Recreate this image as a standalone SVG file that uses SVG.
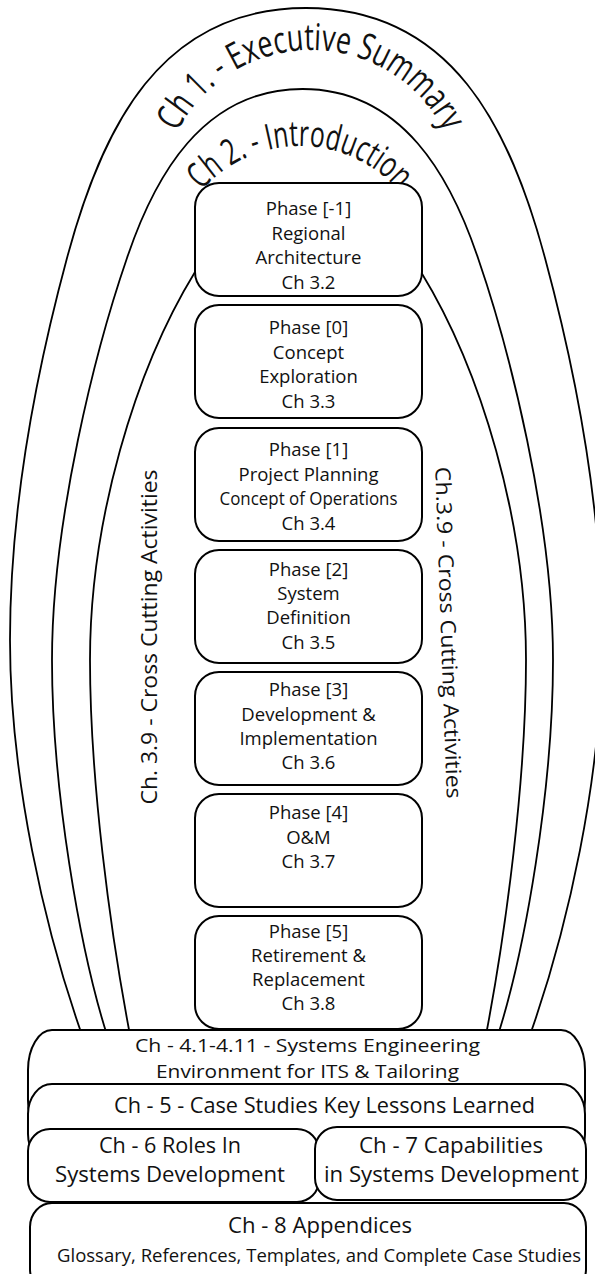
<svg xmlns="http://www.w3.org/2000/svg" width="595" height="1274" viewBox="0 0 595 1274">
  <style>
    .ring { fill: none; stroke: #000; stroke-width: 1.8; }
    .box { fill: #fff; stroke: #000; stroke-width: 2; }
    .t { font-family: "Open Sans", "Noto Sans", sans-serif; fill: #111; text-anchor: middle; }
    .ph { font-size: 18.5px; }
    .bt { font-size: 22px; }
    .sm { font-size: 19px; }
    .side { font-size: 21px; }
  </style>
  <defs>
    <path id="ch1-base" d="M 161,200 A 150 150 0 0 1 461,200"/>
    <path id="ch2-base" d="M 169,277 A 131 131 0 0 1 431,277"/>
  </defs>
  <rect width="595" height="1274" fill="#fff"/>

  <!-- nested chapter outlines -->
  <g id="connectors">
    <path id="ring-ch1" class="ring" d="M 82,1035 C 45,930 10,780 10,640 C 10,500 40,358 67,258 C 102,128 160,8 306,8 C 452,8 510,128 545,258 C 572,358 602,500 602,640 C 602,780 567,930 530,1035"/>
    <path id="ring-ch2" class="ring" d="M 107,1035 C 80,950 52,790 52,660 C 52,520 96,348 127,258 C 154,178 202,89 302.5,89 C 403,89 451,178 478,258 C 509,348 553,520 553,660 C 553,790 525,950 498,1035"/>
    <path id="ring-ch3" class="ring" d="M 130,1035 C 110,930 90,780 90,660 C 90,520 135,370 195,272 C 240,200 376,200 421,272 C 481,370 526,520 526,660 C 526,780 506,930 486,1035"/>
  </g>

  <!-- ring labels -->
  <g id="ch1">
    <text class="t" font-size="37"><textPath href="#ch1-base" startOffset="50%" textLength="330" lengthAdjust="spacingAndGlyphs">Ch 1. - Executive Summary</textPath></text>
  </g>
  <g id="ch2">
    <text class="t" font-size="36"><textPath href="#ch2-base" startOffset="50%" textLength="222" lengthAdjust="spacingAndGlyphs">Ch 2. - Introduction</textPath></text>
  </g>
  <g id="ch39-left">
    <text class="t side" transform="translate(157,637) rotate(-90)" textLength="335" lengthAdjust="spacingAndGlyphs">Ch. 3.9 - Cross Cutting Activities</text>
  </g>
  <g id="ch39-right">
    <text class="t side" transform="translate(441,633) rotate(88)" textLength="332" lengthAdjust="spacingAndGlyphs">Ch.3.9 - Cross Cutting Activities</text>
  </g>

  <!-- life-cycle phases -->
  <g id="phase-m1">
    <rect class="box" x="195" y="183" width="227" height="113" rx="24"/>
    <text class="t ph" x="308.5" y="215">Phase [-1]</text>
    <text class="t ph" x="308.5" y="240">Regional</text>
    <text class="t ph" x="308.5" y="264">Architecture</text>
    <text class="t ph" x="308.5" y="289">Ch 3.2</text>
  </g>
  <g id="phase-0">
    <rect class="box" x="195" y="305" width="227" height="113" rx="24"/>
    <text class="t ph" x="308.5" y="334">Phase [0]</text>
    <text class="t ph" x="308.5" y="359">Concept</text>
    <text class="t ph" x="308.5" y="383">Exploration</text>
    <text class="t ph" x="308.5" y="408">Ch 3.3</text>
  </g>
  <g id="phase-1">
    <rect class="box" x="195" y="428" width="227" height="113" rx="24"/>
    <text class="t ph" x="308.5" y="456">Phase [1]</text>
    <text class="t ph" x="308.5" y="481">Project Planning</text>
    <text class="t ph" x="308.5" y="505" textLength="178" lengthAdjust="spacingAndGlyphs">Concept of Operations</text>
    <text class="t ph" x="308.5" y="530">Ch 3.4</text>
  </g>
  <g id="phase-2">
    <rect class="box" x="195" y="550" width="227" height="113" rx="24"/>
    <text class="t ph" x="308.5" y="576">Phase [2]</text>
    <text class="t ph" x="308.5" y="600">System</text>
    <text class="t ph" x="308.5" y="624">Definition</text>
    <text class="t ph" x="308.5" y="649">Ch 3.5</text>
  </g>
  <g id="phase-3">
    <rect class="box" x="195" y="672" width="227" height="113" rx="24"/>
    <text class="t ph" x="308.5" y="696">Phase [3]</text>
    <text class="t ph" x="308.5" y="721">Development &amp;</text>
    <text class="t ph" x="308.5" y="745">Implementation</text>
    <text class="t ph" x="308.5" y="769">Ch 3.6</text>
  </g>
  <g id="phase-4">
    <rect class="box" x="195" y="794" width="227" height="113" rx="24"/>
    <text class="t ph" x="308.5" y="819">Phase [4]</text>
    <text class="t ph" x="308.5" y="844">O&amp;M</text>
    <text class="t ph" x="308.5" y="868">Ch 3.7</text>
  </g>
  <g id="phase-5">
    <rect class="box" x="195" y="916" width="227" height="113" rx="24"/>
    <text class="t ph" x="308.5" y="938">Phase [5]</text>
    <text class="t ph" x="308.5" y="962">Retirement &amp;</text>
    <text class="t ph" x="308.5" y="986">Replacement</text>
    <text class="t ph" x="308.5" y="1010">Ch 3.8</text>
  </g>

  <!-- stacked chapter panels -->
  <g id="ch4">
    <rect class="box" x="28" y="1030" width="557" height="110" rx="24" ry="40"/>
    <text class="t sm" x="307.5" y="1052" textLength="345" lengthAdjust="spacingAndGlyphs">Ch - 4.1-4.11 - Systems Engineering</text>
    <text class="t sm" x="307.5" y="1078" textLength="303" lengthAdjust="spacingAndGlyphs">Environment for ITS &amp; Tailoring</text>
  </g>
  <g id="ch5">
    <rect class="box" x="28" y="1084" width="557" height="80" rx="24" ry="30"/>
    <text class="t bt" x="324.5" y="1113" textLength="421" lengthAdjust="spacingAndGlyphs">Ch - 5 - Case Studies Key Lessons Learned</text>
  </g>
  <g id="ch6">
    <rect class="box" x="28" y="1129" width="291" height="73" rx="22" ry="22"/>
    <text class="t bt" x="170" y="1153" textLength="142" lengthAdjust="spacingAndGlyphs">Ch - 6 Roles In</text>
    <text class="t bt" x="170" y="1182" textLength="230" lengthAdjust="spacingAndGlyphs">Systems Development</text>
  </g>
  <g id="ch7">
    <rect class="box" x="315" y="1127" width="271" height="73" rx="22" ry="22"/>
    <text class="t bt" x="451" y="1153" textLength="184" lengthAdjust="spacingAndGlyphs">Ch - 7 Capabilities</text>
    <text class="t bt" x="451.5" y="1182" textLength="255" lengthAdjust="spacingAndGlyphs">in Systems Development</text>
  </g>
  <g id="ch8">
    <rect class="box" x="30" y="1203" width="556" height="90" rx="22" ry="24"/>
    <text class="t bt" x="320" y="1233" textLength="184" lengthAdjust="spacingAndGlyphs">Ch - 8 Appendices</text>
    <text class="t sm" x="319" y="1262" textLength="524" lengthAdjust="spacingAndGlyphs">Glossary, References, Templates, and Complete Case Studies</text>
  </g>
</svg>
